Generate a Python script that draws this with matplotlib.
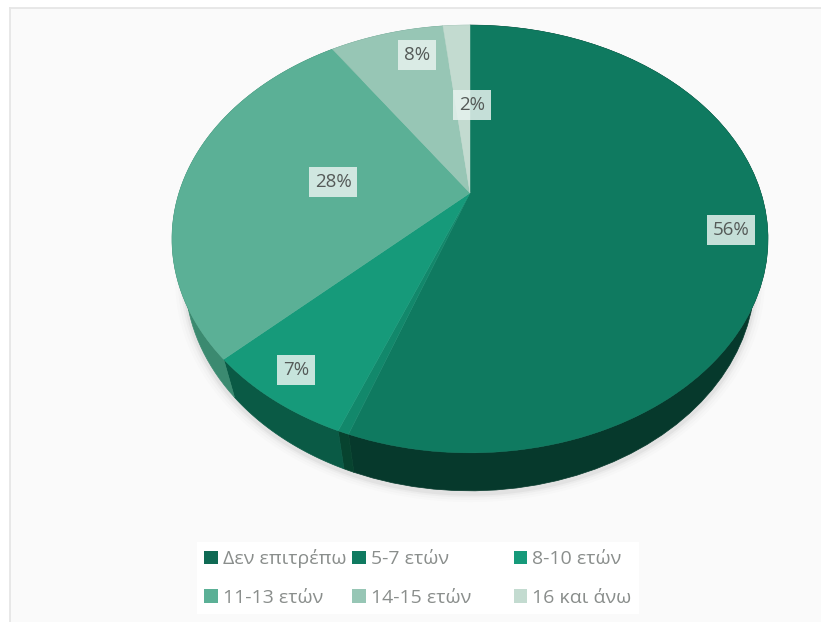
import numpy as np
import matplotlib
matplotlib.use("Agg")
import matplotlib.pyplot as plt
from matplotlib.patches import Patch, Rectangle
from matplotlib.offsetbox import DrawingArea

categories = ["Δεν επιτρέπω", "5-7 ετών", "8-10 ετών", "11-13 ετών", "14-15 ετών", "16 και άνω"]
values = [55.4, 0.5, 6.9, 27.8, 7.6, 1.8]
labels = ["56%", None, "7%", "28%", "8%", "2%"]
colors = ["#0f7a60", "#12886b", "#169a7a", "#5bb096", "#97c6b5", "#c3dbd0"]
wall_colors = ["#06392c", "#07432f", "#0a5a45", "#3b8a70", "#6a9f8e", "#8fb5a7"]
legend_colors = ["#0f6a54", "#0f7a60", "#169a7a", "#5bb096", "#97c6b5", "#c3dbd0"]
label_xy = [(731, 230), None, (296, 370), (333, 182), (417, 55), (472, 105)]

plt.rcParams["font.family"] = ["Open Sans", "DejaVu Sans"]
fig = plt.figure(figsize=(8.21, 6.22), dpi=100, facecolor="white")
ax = fig.add_axes([0, 0, 1, 1])
ax.set_xlim(0, 821)
ax.set_ylim(622, 0)
ax.axis("off")

# card background: only the top and left edges show in the reference
ax.add_patch(Rectangle((10, 8), 811, 614, fc="#fafafa", ec="none", zorder=0))
ax.plot([10, 821], [8, 8], color="#e6e6e6", lw=1.3, zorder=0.5)
ax.plot([10, 10], [8, 622], color="#e6e6e6", lw=1.3, zorder=0.5)

# perspective disc: the apex is the projected centre of a tilted circle
APEX = (470.0, 193.0)
A, B, K = 291.0, 204.0, 0.215
DEPTH = 38.0
BOTTOM_SCALE = 0.956


def project(frac):
    th = 2 * np.pi * np.asarray(frac)
    u, v = np.sin(th), np.cos(th)
    d = 1 + K * v
    return APEX[0] + A * u / d, APEX[1] - B * v / d


def lower(x, y):
    return APEX[0] + (x - APEX[0]) * BOTTOM_SCALE, y + DEPTH


edges = np.concatenate([[0], np.cumsum(values)]) / np.sum(values)

# soft shadow under the disc
sx, sy = lower(*project(np.linspace(0, 1, 361)))
cx, cy = sx.mean(), sy.mean()
for grow, alpha in zip([14, 10, 6, 3], [0.012, 0.018, 0.03, 0.05]):
    ax.fill(cx + (sx - cx) * (1 + grow / 400), cy + (sy - cy) * (1 + grow / 400) + 3,
            color="#303030", alpha=alpha, lw=0, zorder=1)

# side wall
for i in range(len(values)):
    f = np.linspace(edges[i], edges[i + 1], 60)
    x, y = project(f)
    bx, by = lower(x, y)
    ax.fill(np.r_[x, bx[::-1]], np.r_[y, by[::-1]], color=wall_colors[i], lw=0.5,
            ec=wall_colors[i], zorder=2)

# top face
for i in range(len(values)):
    f = np.linspace(edges[i], edges[i + 1], 120)
    x, y = project(f)
    ax.fill(np.r_[APEX[0], x], np.r_[APEX[1], y], color=colors[i], lw=0.3, ec=colors[i], zorder=3)

# data labels
for lab, xy in zip(labels, label_xy):
    if lab is None:
        continue
    ax.text(xy[0], xy[1], lab, ha="center", va="center", fontsize=13.5, color="#555a58", zorder=5,
            bbox=dict(boxstyle="square,pad=0.3", fc="#e6f2ee", ec="none", alpha=0.85))

# legend
handles = [Patch(fc=c, ec="none") for c in legend_colors]
order = [0, 3, 1, 4, 2, 5]
leg = ax.legend([handles[i] for i in order], [categories[i] for i in order], ncol=3,
                loc="center", bbox_to_anchor=(418 / 821, 1 - 578 / 622),
                frameon=True, fancybox=False, framealpha=1, facecolor="white", edgecolor="none",
                fontsize=14, labelcolor="#8a8e8c", handlelength=0.68, handleheight=0.68,
                handletextpad=0.28, columnspacing=0.3, labelspacing=1.05, borderpad=0.4,
                borderaxespad=0)
leg.set_zorder(6)
# the third column sits further right than a uniform column gap allows
columns = leg._legend_handle_box.get_children()
columns.insert(2, DrawingArea(22, 1))

fig.savefig("out.png", dpi=100, facecolor="white")
